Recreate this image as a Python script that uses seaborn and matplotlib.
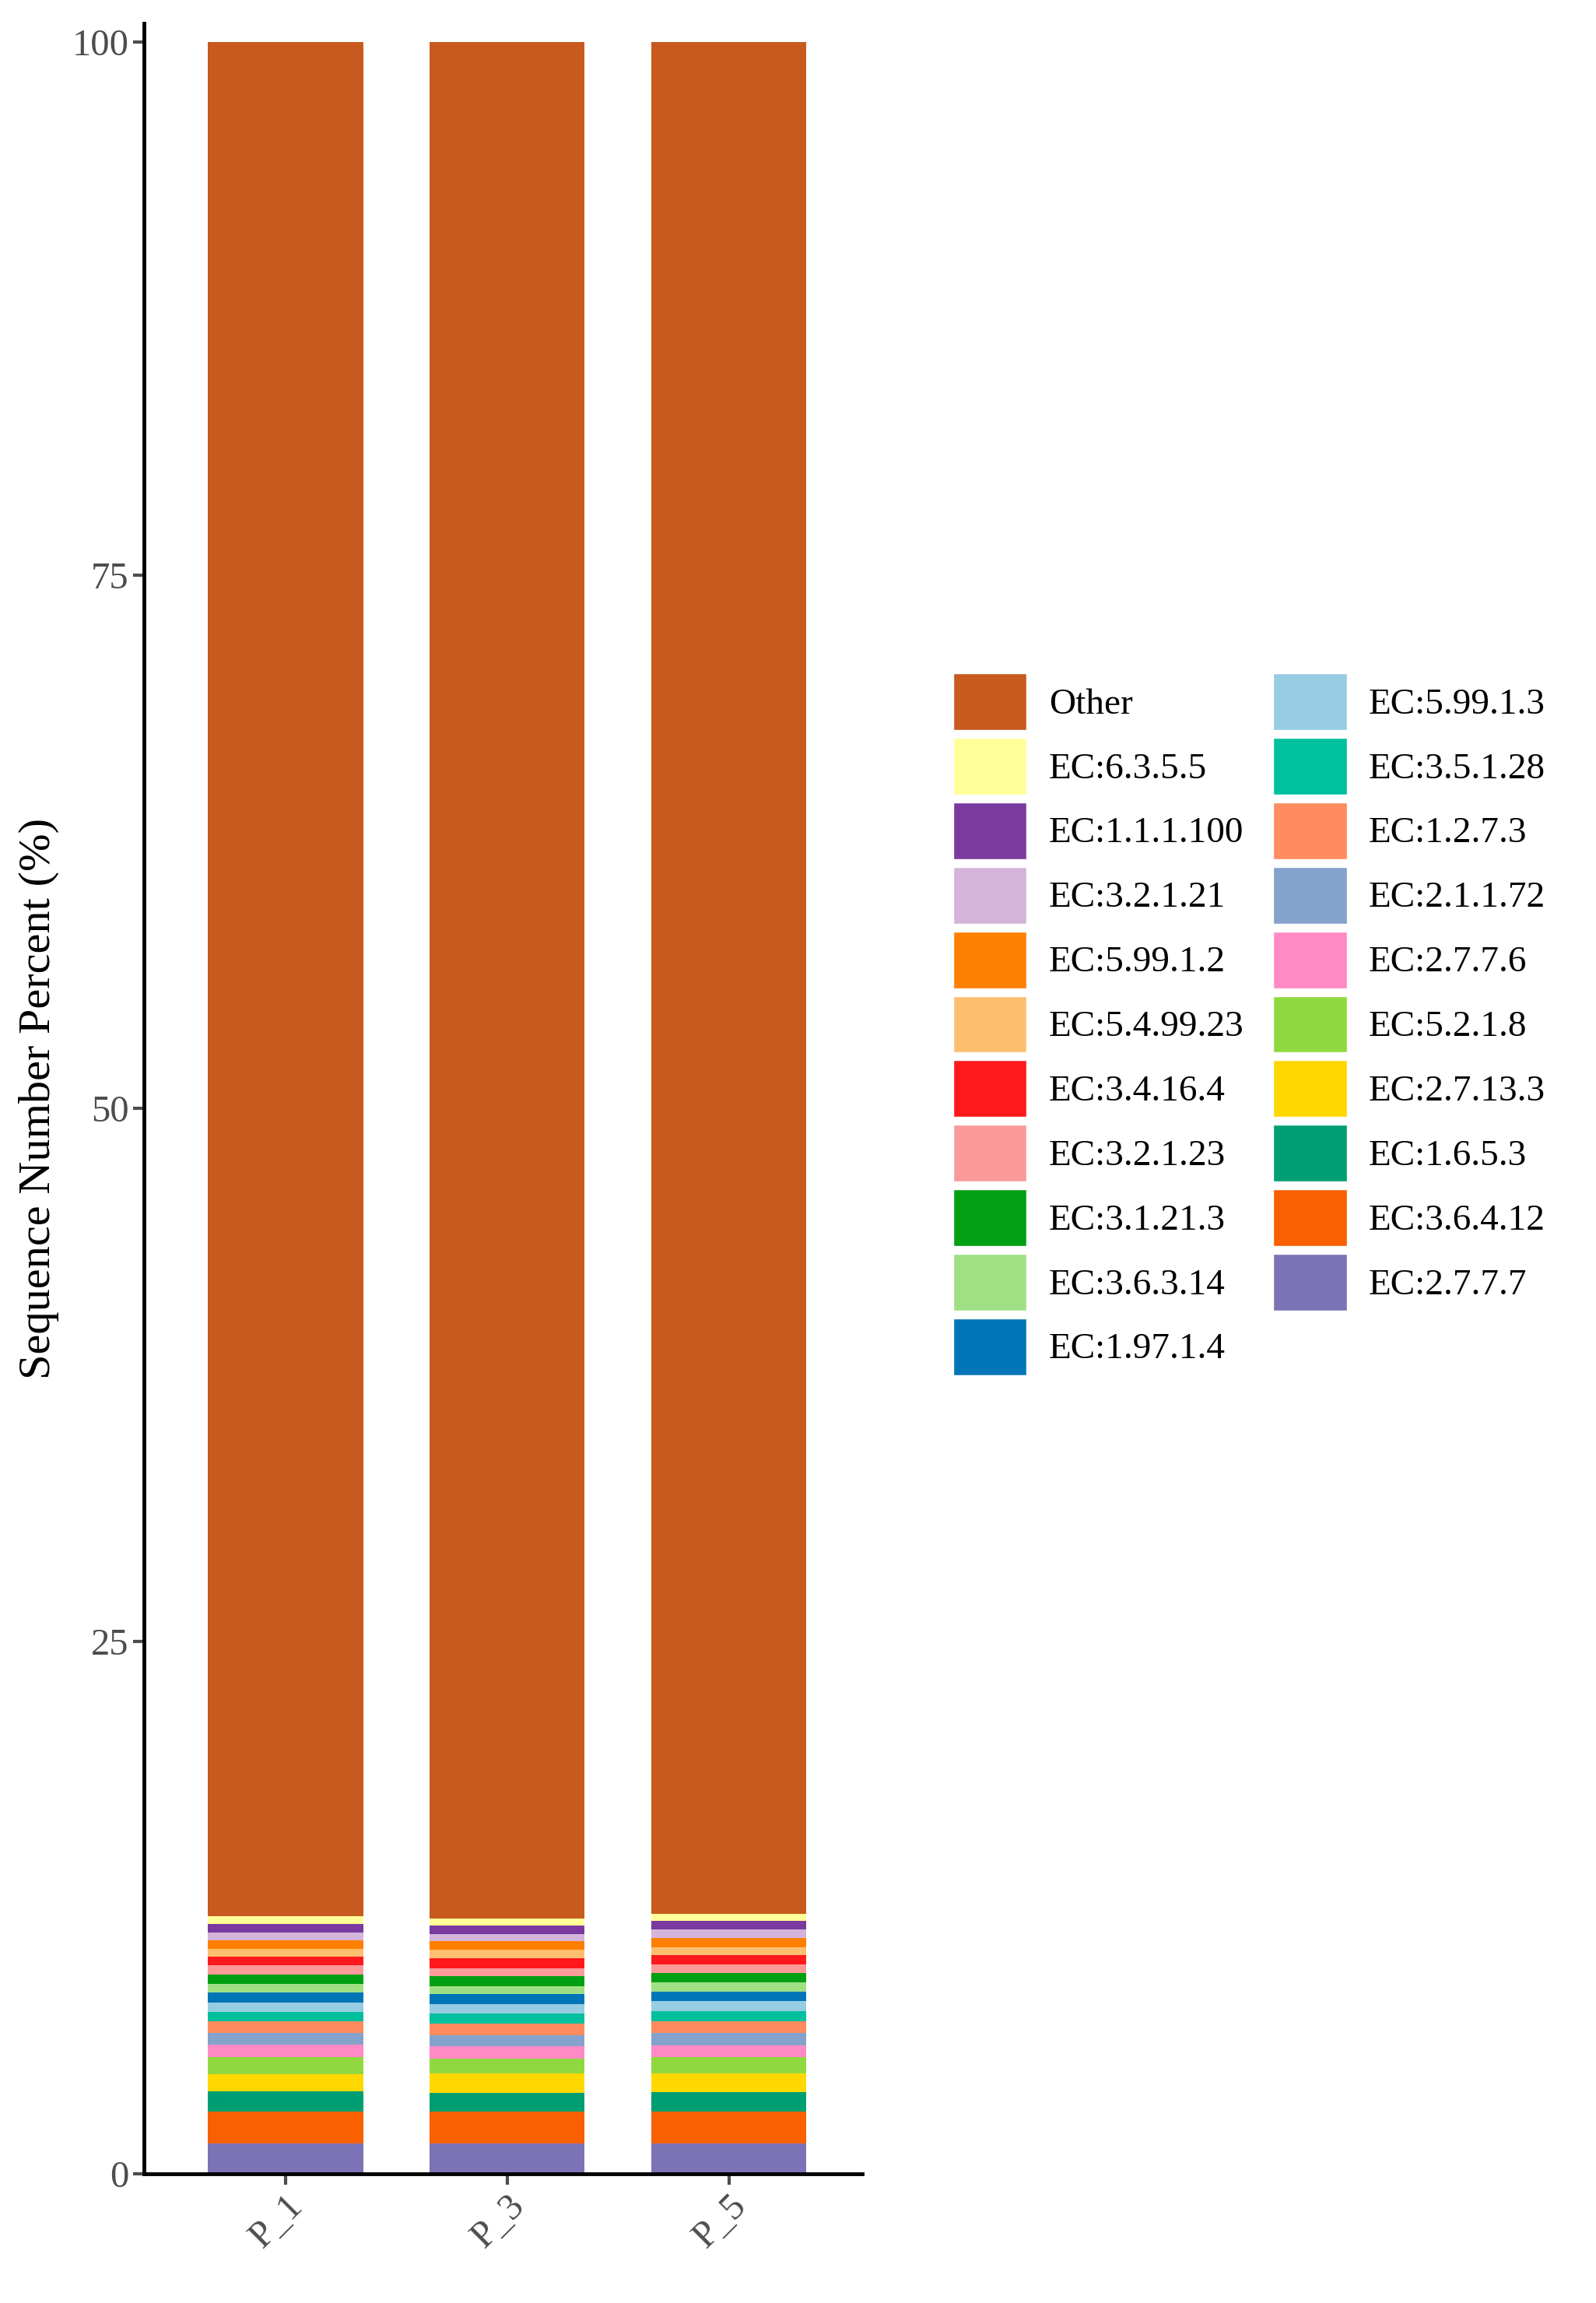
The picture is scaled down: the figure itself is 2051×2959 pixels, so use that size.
import pandas as pd
import matplotlib.pyplot as plt
import seaborn as sns
from matplotlib.patches import Patch

# -------------------------------
# DATA (stack order: bottom -> top)
# -------------------------------
samples = ["P_1", "P_3", "P_5"]
categories = ["EC:2.7.7.7", "EC:3.6.4.12", "EC:1.6.5.3", "EC:2.7.13.3", "EC:5.2.1.8",
              "EC:2.7.7.6", "EC:2.1.1.72", "EC:1.2.7.3", "EC:3.5.1.28", "EC:5.99.1.3",
              "EC:1.97.1.4", "EC:3.6.3.14", "EC:3.1.21.3", "EC:3.2.1.23", "EC:3.4.16.4",
              "EC:5.4.99.23", "EC:5.99.1.2", "EC:3.2.1.21", "EC:1.1.1.100", "EC:6.3.5.5",
              "Other"]
p1 = [1.44, 1.49, 0.94, 0.83, 0.80, 0.57, 0.54, 0.56, 0.45, 0.43,
      0.46, 0.42, 0.42, 0.43, 0.41, 0.38, 0.38, 0.39, 0.38, 0.38, 87.90]
p3 = [1.44, 1.49, 0.88, 0.90, 0.70, 0.58, 0.52, 0.55, 0.48, 0.44,
      0.45, 0.39, 0.45, 0.38, 0.48, 0.38, 0.42, 0.34, 0.39, 0.34, 88.00]
p5 = [1.44, 1.50, 0.90, 0.88, 0.76, 0.57, 0.57, 0.56, 0.47, 0.45,
      0.45, 0.44, 0.43, 0.42, 0.43, 0.38, 0.41, 0.40, 0.41, 0.35, 87.78]
colors = ["#7B73B6", "#F86000", "#009E73", "#FFD800", "#90D840",
          "#FF8AC6", "#85A2CC", "#FF8C5E", "#00C09E", "#96CDE3",
          "#0076B8", "#A0E085", "#00A012", "#FB9A99", "#FF181C",
          "#FDBF6F", "#FF7F00", "#D4B4DA", "#7A3A9F", "#FFFF99",
          "#C85A1F"]

# -------------------------------
# LONG TABLE WITH CUMULATIVE TOPS
# -------------------------------
df = pd.DataFrame({"P_1": p1, "P_3": p3, "P_5": p5}, index=categories)
cum = df.cumsum()
long = cum.reset_index().melt(id_vars="index", var_name="Sample", value_name="Top")
long = long.rename(columns={"index": "Category"})

plt.rcParams["font.family"] = "Liberation Serif"
fig = plt.figure(figsize=(20.51, 29.59), dpi=100)
ax = fig.add_axes([0.09, 0.056, 0.45, 0.934])

# draw tallest cumulative layer first so smaller ones overlay
for cat, col in reversed(list(zip(categories, colors))):
    sub = long[long["Category"] == cat]
    sns.barplot(data=sub, x="Sample", y="Top", order=samples, color=col,
                width=0.7, saturation=1, edgecolor="none", ax=ax)

ax.set_xlim(-0.64, 2.6)
ax.set_ylim(0, 100.9)
ax.set_yticks([0, 25, 50, 75, 100])
ax.set_xlabel("")
ax.set_ylabel("Sequence Number Percent (%)", fontsize=42, color="black", labelpad=12)
ax.tick_params(axis="both", labelsize=35, colors="#4d4d4d", width=3, length=10)
plt.setp(ax.get_xticklabels(), rotation=45, ha="right", rotation_mode="anchor")
for s in ["top", "right"]:
    ax.spines[s].set_visible(False)
for s in ["left", "bottom"]:
    ax.spines[s].set_linewidth(3.5)

# -------------------------------
# LEGEND (top of stack first, two columns)
# -------------------------------
handles = [Patch(facecolor=c, edgecolor="white", label=l)
           for l, c in zip(reversed(categories), reversed(colors))]
fig.legend(handles=handles, loc="upper left", bbox_to_anchor=(0.588, 0.714),
           ncol=2, frameon=False, fontsize=34, handlelength=2.0, handleheight=2.0,
           labelspacing=0.21, columnspacing=0.8, handletextpad=0.6, borderaxespad=0)

fig.savefig("out.png", dpi=100)
